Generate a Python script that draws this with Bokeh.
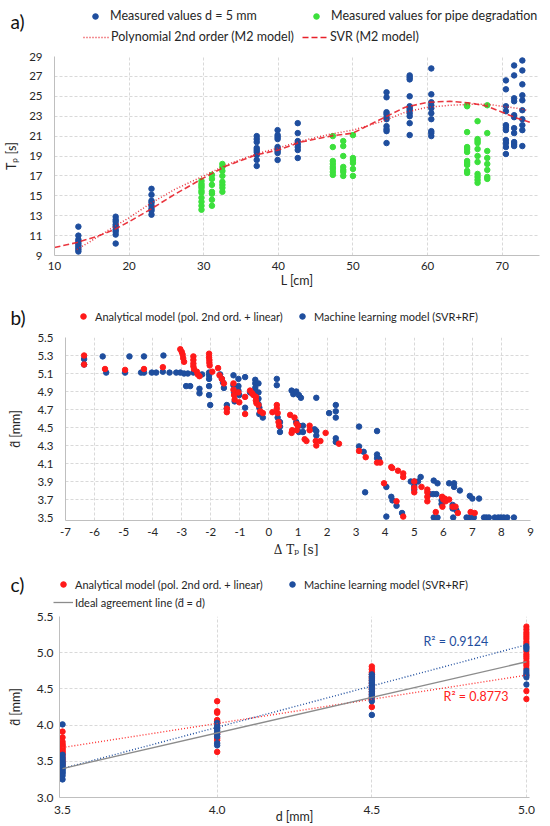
from bokeh.plotting import figure
from bokeh.layouts import column
from bokeh.models import Range1d, FixedTicker, Legend, LegendItem, Label
from bokeh.embed import file_html
from bokeh.resources import INLINE

# ---------------- Panel a data ----------------
a_blue_L = [13.2, 18.2, 23.0, 37.1, 39.9, 42.6, 54.5, 57.6, 60.5, 70.5, 71.6, 72.7]
a_blue_T = [
    [11.9, 11.0, 10.6, 10.4, 10.2, 10.0, 9.8, 9.6, 9.4],
    [12.9, 12.6, 12.4, 12.1, 11.9, 11.6, 11.4, 11.1, 10.2],
    [15.7, 15.1, 14.5, 14.3, 14.0, 13.7, 13.5, 13.1],
    [21.0, 20.7, 20.4, 19.8, 19.6, 19.4, 19.1, 18.6, 18.0],
    [21.6, 21.1, 20.9, 20.7, 19.9, 19.7, 19.5, 19.3, 18.6],
    [22.3, 21.3, 20.5, 20.2, 19.9, 19.6, 18.8],
    [25.4, 24.9, 23.4, 23.2, 22.9, 22.7, 22.0, 21.7, 21.5, 20.3],
    [27.1, 26.9, 26.7, 25.0, 24.0, 23.8, 23.6, 23.3, 23.0, 22.3, 21.1],
    [27.8, 25.2, 24.4, 24.1, 23.8, 23.3, 22.7, 21.5, 21.3, 21.0],
    [26.6, 25.7, 24.0, 23.5, 22.1, 21.9, 21.6, 20.6, 20.3, 19.9, 19.2],
    [28.1, 27.1, 24.8, 24.5, 23.1, 22.9, 21.8, 21.3, 20.4, 20.2, 20.0],
    [28.6, 27.6, 26.2, 25.1, 24.6, 23.6, 22.7, 22.1, 21.6, 20.0],
]
a_green_L = [29.7, 31.1, 32.5, 47.3, 48.7, 50.0, 65.3, 66.7, 68.0]
a_green_T = [
    [16.5, 16.2, 16.0, 15.8, 15.5, 15.3, 14.8, 14.4, 14.0, 13.6],
    [17.1, 16.7, 16.1, 15.4, 15.2, 14.6, 14.0],
    [18.2, 17.9, 17.5, 17.0, 16.4, 16.1, 15.8, 15.4],
    [21.0, 19.9, 18.5, 18.2, 17.9, 17.7, 17.4, 17.1],
    [20.5, 20.0, 19.0, 17.9, 17.6, 17.4, 17.0],
    [21.1, 18.8, 18.6, 18.3, 17.7, 17.0],
    [24.1, 24.0, 21.4, 19.9, 19.7, 19.4, 18.5, 18.3, 18.1, 17.5, 17.3],
    [22.5, 20.7, 20.5, 20.3, 19.7, 19.0, 18.4, 17.2, 16.9, 16.6, 16.3],
    [24.1, 21.3, 19.5, 18.8, 18.2, 17.6, 16.9, 16.7],
]
poly_L = [13, 15, 18, 20, 23, 26, 30, 33, 37, 40, 43, 47, 50, 54, 57, 60, 63, 66, 68, 70, 72, 73.3]
poly_T = [9.6, 10.5, 11.9, 12.8, 14.3, 15.6, 17.0, 18.1, 19.2, 19.8, 20.5, 21.2, 21.6, 22.5,
          23.4, 23.9, 24.1, 24.2, 24.2, 24.0, 23.8, 23.6]
svr_L = [10, 13, 16, 18, 20, 23, 26, 30, 33, 37, 40, 43, 47, 50, 54, 57, 60, 63, 66, 68, 70, 72, 73.7]
svr_T = [9.8, 10.3, 11.0, 11.6, 12.4, 13.7, 15.1, 16.8, 18.0, 19.1, 19.6, 20.4, 21.0, 21.3,
         22.8, 23.9, 24.4, 24.5, 24.3, 24.0, 23.4, 22.8, 22.4]
a_xticks = [10, 20, 30, 40, 50, 60, 70]
a_yticks = [9, 11, 13, 15, 17, 19, 21, 23, 25, 27, 29]

# ---------------- Panel b data ----------------
b_red = [
    (-6.36, 5.30), (-6.36, 5.20), (-5.64, 5.15), (-4.95, 5.14), (-4.30, 5.15), (-3.65, 5.17),
    (-3.05, 5.37), (-3.00, 5.34), (-2.97, 5.31), (-2.95, 5.27), (-2.92, 5.23),
    (-2.60, 5.29), (-2.60, 5.25), (-2.60, 5.21), (-2.60, 5.18), (-2.58, 5.15), (-2.48, 5.12),
    (-2.45, 5.09), (-2.39, 5.07), (-2.06, 5.32), (-2.06, 5.28), (-2.05, 5.25), (-2.05, 5.22),
    (-2.04, 5.19), (-1.95, 5.12), (-1.75, 5.16), (-1.70, 5.08), (-1.62, 5.04), (-1.55, 4.99),
    (-1.45, 4.71), (-1.45, 4.67), (-1.22, 4.99), (-1.22, 4.92), (-1.20, 4.86), (-1.18, 4.81),
    (-1.05, 4.89), (-1.02, 4.78), (-0.82, 4.84), (-0.82, 4.65), (-0.65, 4.91), (-0.58, 4.88),
    (-0.53, 4.86), (-0.45, 4.84), (-0.45, 4.80), (-0.43, 4.77), (-0.36, 4.75), (-0.30, 4.68),
    (-0.21, 4.66), (0.12, 4.67), (0.27, 4.75), (0.27, 4.71), (0.30, 4.66), (0.33, 4.56),
    (0.35, 4.52), (0.73, 4.64), (0.78, 4.44), (0.80, 4.47), (0.88, 4.61), (0.95, 4.54),
    (0.95, 4.47), (1.00, 4.52), (1.23, 4.37), (1.29, 4.35), (1.40, 4.52), (1.40, 4.47),
    (1.61, 4.35), (1.63, 4.30), (1.77, 4.35), (1.95, 4.44), (2.41, 4.32), (3.10, 4.24),
    (3.33, 4.17), (3.72, 4.11), (3.83, 4.11), (3.96, 3.88), (4.21, 4.06), (4.24, 4.05),
    (4.39, 3.68), (4.44, 4.02), (4.62, 3.99), (4.62, 3.95), (4.62, 3.51), (5.00, 3.90),
    (5.00, 3.83), (5.00, 3.78), (5.25, 3.84), (5.45, 3.81), (5.45, 3.78), (5.45, 3.73),
    (5.45, 3.68), (5.74, 3.56), (5.96, 3.73), (6.00, 3.70), (5.97, 3.62), (6.05, 3.71),
    (6.08, 3.68), (6.20, 3.70), (6.32, 3.62), (6.42, 3.62), (6.50, 3.55), (6.94, 3.56),
    (7.08, 3.55),
]
b_blue = [
    (-6.36, 5.26), (-6.36, 5.20), (-5.72, 5.29), (-5.60, 5.11), (-4.95, 5.11), (-4.80, 5.29),
    (-4.40, 5.11), (-4.30, 5.11), (-4.30, 5.29), (-4.03, 5.11), (-3.88, 5.11), (-3.65, 5.12),
    (-3.63, 5.30), (-3.42, 5.11), (-3.19, 5.11), (-3.05, 5.11), (-2.92, 5.10), (-2.79, 5.10),
    (-2.85, 4.96), (-2.71, 4.96), (-2.60, 5.11), (-2.39, 4.93), (-2.39, 4.88), (-2.30, 5.09),
    (-2.06, 5.11), (-2.06, 5.08), (-2.06, 5.04), (-2.06, 4.96), (-2.06, 4.86), (-2.02, 4.75),
    (-1.68, 5.09), (-1.62, 5.04), (-1.58, 5.00), (-1.55, 4.94), (-1.45, 4.75), (-1.45, 4.71),
    (-1.22, 5.08), (-1.22, 4.97), (-1.20, 4.89), (-1.18, 4.79), (-1.05, 5.04), (-1.05, 4.96),
    (-1.05, 4.91), (-1.02, 4.86), (-0.82, 5.06), (-0.82, 4.72), (-0.65, 4.89), (-0.55, 4.87),
    (-0.47, 5.03), (-0.47, 4.99), (-0.47, 4.94), (-0.47, 4.89), (-0.36, 4.99), (-0.36, 4.89),
    (-0.36, 4.82), (-0.36, 4.76), (-0.33, 4.72), (-0.33, 4.65), (-0.21, 4.61), (0.27, 5.04),
    (0.27, 4.97), (0.30, 4.61), (0.38, 4.56), (0.38, 4.51), (0.38, 4.45), (0.78, 4.91),
    (0.84, 4.87), (0.94, 4.90), (1.03, 4.86), (1.10, 4.83), (0.94, 4.56), (1.03, 4.52),
    (1.03, 4.45), (1.17, 4.45), (1.17, 4.52), (1.57, 4.48), (1.63, 4.46), (1.63, 4.41),
    (1.63, 4.83), (2.07, 4.66), (2.30, 4.75), (2.30, 4.68), (2.30, 4.61), (2.30, 4.38),
    (2.30, 4.34), (3.10, 4.51), (3.10, 4.29), (3.26, 4.23), (3.31, 3.78), (3.72, 4.46),
    (3.72, 4.20), (3.72, 4.16), (3.79, 4.15), (4.04, 3.84), (4.04, 3.51), (4.21, 3.73),
    (4.25, 3.69), (4.39, 3.63), (4.58, 3.55), (4.88, 3.90), (5.00, 3.90), (5.00, 3.85),
    (5.00, 3.81), (5.13, 3.90), (5.22, 3.95), (5.67, 3.91), (5.80, 3.88), (5.53, 3.76),
    (5.65, 3.76), (5.76, 3.76), (5.67, 3.50), (5.80, 3.50), (5.94, 3.69), (5.94, 3.65),
    (6.20, 3.88), (6.37, 3.88), (6.37, 3.84), (6.32, 3.64), (6.32, 3.60), (6.34, 3.50),
    (6.45, 3.58), (6.57, 3.80), (6.80, 3.50), (6.90, 3.50), (6.91, 3.74), (7.00, 3.71),
    (7.05, 3.50), (7.23, 3.71), (7.40, 3.50), (7.48, 3.50), (7.57, 3.50), (7.77, 3.50),
    (7.89, 3.50), (7.98, 3.50), (8.08, 3.50), (8.20, 3.50), (8.43, 3.50),
]
b_xticks = [-7, -6, -5, -4, -3, -2, -1, 0, 1, 2, 3, 4, 5, 6, 7, 8, 9]
b_yticks = [3.5, 3.7, 3.9, 4.1, 4.3, 4.5, 4.7, 4.9, 5.1, 5.3, 5.5]

# ---------------- Panel c data ----------------
c_d = [3.5, 4.0, 4.5, 5.0]
c_red = [
    [3.91, 3.83, 3.77, 3.74, 3.72, 3.70, 3.68, 3.66, 3.64, 3.62, 3.60, 3.57, 3.54, 3.51, 3.48, 3.45],
    [4.33, 4.19, 4.17, 4.07, 4.05, 4.02, 3.96, 3.88, 3.82, 3.79, 3.63],
    [4.81, 4.77, 4.73, 4.70, 4.66, 4.62, 4.58, 4.54, 4.50, 4.46, 4.42, 4.38, 4.25],
    [5.36, 5.32, 5.28, 5.25, 5.22, 5.19, 5.15, 5.12, 5.02, 4.98, 4.95, 4.92, 4.88, 4.85,
     4.82, 4.78, 4.69, 4.47, 4.36],
]
c_blue = [
    [4.01, 3.59, 3.55, 3.52, 3.49, 3.47, 3.45, 3.43, 3.41, 3.39, 3.37, 3.35, 3.33, 3.30, 3.25],
    [4.03, 3.99, 3.96, 3.93, 3.90, 3.87, 3.84, 3.75, 3.72],
    [4.70, 4.67, 4.64, 4.61, 4.58, 4.55, 4.52, 4.49, 4.46, 4.43, 4.40, 4.37, 4.33, 4.14],
    [5.09, 5.07, 5.05, 4.75, 4.72, 4.69, 4.66, 4.56],
]
fit_d = [3.5, 5.0]
fit_blue = [3.40, 5.11]
fit_red = [3.69, 4.69]
ideal_line = [3.40, 4.875]
r2_blue = "R² = 0.9124"
r2_red = "R² = 0.8773"
c_xticks = [3.5, 4.0, 4.5, 5.0]
c_yticks = [3.0, 3.5, 4.0, 4.5, 5.0, 5.5]

# ---------------- style ----------------
BLUE = "#1F4E9E"
RED = "#FF1A1A"
GREEN = "#3CE03C"
LRED = "#E8202A"
GRAY = "#8C8C8C"
GRID = "#D9D9D9"
AXIS = "#BFBFBF"
TXT = "#262626"
FONT = "Lato"
W = 550
DOT = "1 2"


def style(p, tick_size):
    for g in (p.xgrid, p.ygrid):
        g.grid_line_color = GRID
        g.grid_line_dash = "3 2"
        g.grid_line_width = 1
    p.axis.major_tick_line_color = None
    p.axis.minor_tick_line_color = None
    p.axis.major_tick_out = 0
    p.axis.major_tick_in = 0
    p.axis.minor_tick_out = 0
    p.axis.minor_tick_in = 0
    p.axis.axis_line_color = AXIS
    p.axis.major_label_text_font = FONT
    p.axis.major_label_text_font_size = tick_size
    p.axis.major_label_text_color = TXT
    p.axis.axis_label_text_font = FONT
    p.axis.axis_label_text_font_size = "12.5px"
    p.axis.axis_label_text_font_style = "normal"
    p.axis.axis_label_text_color = TXT
    p.outline_line_color = None


def header(h):
    p = figure(width=W, height=h, x_range=Range1d(0, W), y_range=Range1d(h, 0),
               output_backend="svg", toolbar_location=None, min_border=0,
               min_border_left=0, min_border_right=0, min_border_top=0, min_border_bottom=0,
               x_axis_location=None, y_axis_location=None)
    p.outline_line_color = None
    p.xgrid.visible = False
    p.ygrid.visible = False
    return p


def leg(p, r, text, vx, vy, gw, size="11px"):
    lg = Legend(items=[LegendItem(label=text, renderers=[r])], location=(vx, vy),
                background_fill_alpha=0, border_line_alpha=0, padding=0, margin=0,
                spacing=0, glyph_width=gw, glyph_height=14, label_height=14,
                label_standoff=2, label_text_font=FONT, label_text_font_size=size,
                label_text_color=TXT, inactive_fill_alpha=0)
    p.add_layout(lg)


def tag(p, text, x, y):
    p.add_layout(Label(x=x, y=y, text=text, text_font=FONT, text_font_size="19px",
                       text_color="#111111", text_baseline="middle", text_align="left"))


# flatten column data
bx, by = [], []
for L, vals in zip(a_blue_L, a_blue_T):
    bx += [L] * len(vals)
    by += vals
gx, gy = [], []
for L, vals in zip(a_green_L, a_green_T):
    gx += [L] * len(vals)
    gy += vals
rx, ry, ux, uy = [], [], [], []
for d, vals in zip(c_d, c_red):
    rx += [d] * len(vals)
    ry += vals
for d, vals in zip(c_d, c_blue):
    ux += [d] * len(vals)
    uy += vals
b_red_x = [p[0] for p in b_red]
b_red_y = [p[1] for p in b_red]
b_blue_x = [p[0] for p in b_blue]
b_blue_y = [p[1] for p in b_blue]

# ---------------- panel a ----------------
ha = header(48)
la1 = ha.scatter(bx, by, size=5.5, color=BLUE, visible=False)
la2 = ha.scatter(gx, gy, size=5.5, color=GREEN, visible=False)
la3 = ha.line(poly_L, poly_T, line_color=LRED, line_width=1.5, line_dash=DOT, visible=False)
la4 = ha.line(svr_L, svr_T, line_color=LRED, line_width=1.6, line_dash="6 3", visible=False)
leg(ha, la1, "Measured values d = 5 mm", 82, 25, 26, "12.5px")
leg(ha, la2, "Measured values for pipe degradation", 303, 25, 26, "12.5px")
leg(ha, la3, "Polynomial 2nd order (M2 model)", 83, 4, 26, "12.5px")
leg(ha, la4, "SVR (M2 model)", 302, 4, 26, "12.5px")
tag(ha, "a)", 10, 21)

fa = figure(width=W, height=255, x_range=Range1d(10, 75), y_range=Range1d(9, 29),
            output_backend="svg", toolbar_location=None,
            min_border_left=54, min_border_right=11, min_border_top=8, min_border_bottom=48)
style(fa, "11.5px")
fa.xaxis.ticker = FixedTicker(ticks=a_xticks)
fa.yaxis.ticker = FixedTicker(ticks=a_yticks)
fa.xaxis.major_label_standoff = 6
fa.yaxis.major_label_standoff = 12
fa.xaxis.axis_label = "L [cm]"
fa.yaxis.axis_label = "Tₚ [s]"
fa.xaxis.axis_label_standoff = 0
fa.yaxis.axis_label_standoff = 7
fa.scatter(bx, by, size=5.5, color=BLUE)
fa.scatter(gx, gy, size=5.5, color=GREEN)
fa.line(poly_L, poly_T, line_color=LRED, line_width=1.5, line_dash=DOT, line_alpha=0.9)
fa.line(svr_L, svr_T, line_color=LRED, line_width=1.6, line_dash="6 3", line_alpha=0.9)

# ---------------- panel b ----------------
hb = header(26)
lb1 = hb.scatter(b_red_x, b_red_y, size=5.5, color=RED, visible=False)
lb2 = hb.scatter(b_blue_x, b_blue_y, size=5.5, color=BLUE, visible=False)
leg(hb, lb1, "Analytical model (pol. 2nd ord. + linear)", 73, 6, 20)
leg(hb, lb2, "Machine learning model (SVR+RF)", 292, 6, 20)
tag(hb, "b)", 10, 14)

fb = figure(width=W, height=241, x_range=Range1d(-7, 9), y_range=Range1d(3.4667, 5.5),
            output_backend="svg", toolbar_location=None,
            min_border_left=65, min_border_right=20, min_border_top=8, min_border_bottom=50)
style(fb, "11.5px")
fb.xaxis.ticker = FixedTicker(ticks=b_xticks)
fb.xaxis.major_label_overrides = {t: str(t) for t in b_xticks}
fb.yaxis.ticker = FixedTicker(ticks=b_yticks)
fb.yaxis.major_label_overrides = {t: f"{t:.1f}" for t in b_yticks}
fb.ygrid.ticker = FixedTicker(ticks=b_yticks[1:])
fb.xaxis.major_label_standoff = 7
fb.yaxis.major_label_standoff = 12
fb.xaxis.axis_label = "Δ Tₚ  [s]"
fb.xaxis.axis_label_text_font = "DejaVu Serif"
fb.xaxis.axis_label_text_font_size = "12px"
fb.yaxis.axis_label = "d̂ [mm]"
fb.xaxis.axis_label_standoff = 4
fb.yaxis.axis_label_standoff = 11
fb.scatter(b_blue_x, b_blue_y, size=5.5, color=BLUE)
fb.scatter(b_red_x, b_red_y, size=5.5, color=RED)

# ---------------- panel c ----------------
hc = header(39)
lc1 = hc.scatter(rx, ry, size=5.5, color=RED, visible=False)
lc2 = hc.scatter(ux, uy, size=5.5, color=BLUE, visible=False)
lc3 = hc.line(fit_d, ideal_line, line_color=GRAY, line_width=1.3, visible=False)
leg(hc, lc1, "Analytical model (pol. 2nd ord. + linear)", 53, 18, 20)
leg(hc, lc2, "Machine learning model (SVR+RF)", 282, 18, 20)
leg(hc, lc3, "Ideal agreement line (d̂ = d)", 53, 0, 20)
tag(hc, "c)", 10, 14)

fc = figure(width=W, height=217, x_range=Range1d(3.4903, 5.0097), y_range=Range1d(3.0, 5.5),
            output_backend="svg", toolbar_location=None,
            min_border_left=59, min_border_right=21, min_border_top=7, min_border_bottom=29)
style(fc, "12px")
fc.xaxis.ticker = FixedTicker(ticks=c_xticks)
fc.xaxis.major_label_overrides = {t: f"{t:.1f}" for t in c_xticks}
fc.xgrid.ticker = FixedTicker(ticks=c_xticks[1:])
fc.yaxis.ticker = FixedTicker(ticks=c_yticks)
fc.yaxis.major_label_overrides = {t: f"{t:.1f}" for t in c_yticks}
fc.xaxis.major_label_standoff = 8
fc.yaxis.major_label_standoff = 6
fc.xaxis.axis_label = "d [mm]"
fc.xaxis.axis_label_standoff = -8
fc.yaxis.axis_label = "d̂ [mm]"
fc.yaxis.axis_label_standoff = 11
fc.scatter(rx, ry, size=5.5, color=RED)
fc.scatter(ux, uy, size=5.5, color=BLUE)
fc.line(fit_d, fit_red, line_color="#FF3030", line_width=1.4, line_dash=DOT)
fc.line(fit_d, fit_blue, line_color=BLUE, line_width=1.4, line_dash=DOT)
fc.line(fit_d, ideal_line, line_color=GRAY, line_width=1.3)
fc.add_layout(Label(x=4.667, y=5.15, text=r2_blue, text_font=FONT, text_font_size="12.5px",
                    text_color=BLUE, text_baseline="middle"))
fc.add_layout(Label(x=4.732, y=4.40, text=r2_red, text_font=FONT, text_font_size="12.5px",
                    text_color="#FF2020", text_baseline="middle"))

figs = [ha, fa, hb, fb, hc, fc]
if all("frame_align" in f.properties() for f in figs):
    for f in figs:
        f.frame_align = False
    root = column(*figs, spacing=0)
else:
    root = figs
open("out.html", "w").write(file_html(root, INLINE))
